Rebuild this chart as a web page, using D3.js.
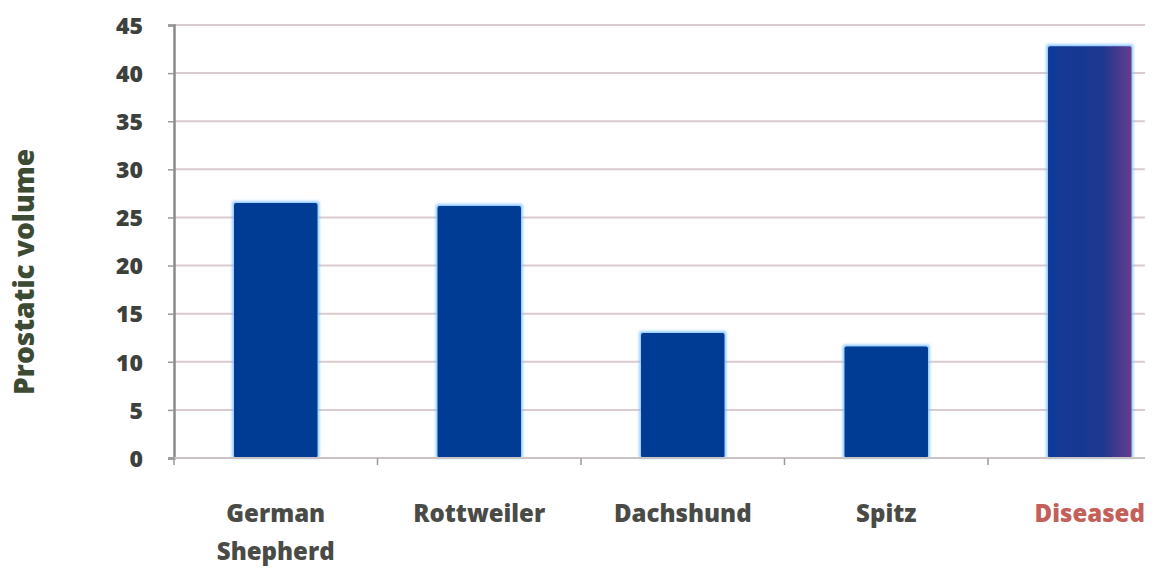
<!DOCTYPE html>
<html>
<head>
<meta charset="utf-8">
<script src="https://cdn.jsdelivr.net/npm/d3@7"></script>
<style>
  html, body { margin: 0; padding: 0; background: #fff; }
  svg { display: block; }
</style>
</head>
<body>
<svg id="chart" width="1158" height="573"></svg>
<script>
// Breeds compared, with mean prostatic volume per group
const categories = ["German Shepherd", "Rottweiler", "Dachshund", "Spitz", "Diseased"];
const values = [26.5, 26.2, 13.0, 11.6, 42.8];
const yTicks = [0, 5, 10, 15, 20, 25, 30, 35, 40, 45];
const yTitle = "Prostatic volume";

const svg = d3.select("#chart");
const plotLeft = 174, plotRight = 1145, plotTop = 25, plotBottom = 458;
const bandWidth = 203.5;
const fontStack = "'Open Sans', sans-serif";

const x = d3.scaleBand()
  .domain(categories)
  .range([plotLeft, plotLeft + bandWidth * categories.length])
  .paddingInner(0.59)
  .paddingOuter(0.295);

const y = d3.scaleLinear().domain([0, 45]).range([plotBottom, plotTop]);

const defs = svg.append("defs");
defs.append("filter").attr("id", "glow")
  .attr("x", "-20%").attr("y", "-20%").attr("width", "140%").attr("height", "140%")
  .append("feGaussianBlur").attr("stdDeviation", 1.8);
defs.append("filter").attr("id", "soft")
  .append("feGaussianBlur").attr("stdDeviation", 0.6);
const grad = defs.append("linearGradient").attr("id", "diseasedFill")
  .attr("x1", "0%").attr("x2", "100%").attr("y1", "0%").attr("y2", "0%");
grad.append("stop").attr("offset", "0%").attr("stop-color", "#0f3a97");
grad.append("stop").attr("offset", "65%").attr("stop-color", "#1e3890");
grad.append("stop").attr("offset", "100%").attr("stop-color", "#683b8c");

// Horizontal gridlines
svg.append("g")
  .selectAll("line")
  .data(yTicks.filter(d => d > 0))
  .join("line")
  .attr("x1", plotLeft).attr("x2", plotRight)
  .attr("y1", d => y(d)).attr("y2", d => y(d))
  .attr("stroke", "#d9cbd0").attr("stroke-width", 2);

// Bars: soft light-blue halo, then the solid bar
const bars = svg.append("g");
bars.selectAll("rect.halo")
  .data(categories)
  .join("rect")
  .attr("class", "halo")
  .attr("x", d => x(d) - 1.5)
  .attr("y", (d, i) => y(values[i]) - 1.5)
  .attr("width", x.bandwidth() + 3)
  .attr("height", (d, i) => plotBottom - y(values[i]) + 1.5)
  .attr("fill", "#7cc0ff")
  .attr("filter", "url(#glow)");
bars.selectAll("rect.bar")
  .data(categories)
  .join("rect")
  .attr("class", "bar")
  .attr("x", d => x(d))
  .attr("y", (d, i) => y(values[i]))
  .attr("width", x.bandwidth())
  .attr("height", (d, i) => plotBottom - y(values[i]))
  .attr("rx", 2)
  .attr("fill", d => d === "Diseased" ? "url(#diseasedFill)" : "#003a94")
  .attr("filter", "url(#soft)");

// Value axis
const yAxis = svg.append("g")
  .attr("transform", `translate(${plotLeft},0)`)
  .call(d3.axisLeft(y).tickValues(yTicks).tickSize(6).tickPadding(25));
yAxis.select(".domain").attr("stroke", "#8a8a8a").attr("stroke-width", 2.5);
yAxis.selectAll(".tick line").attr("stroke", "#9a9a9a").attr("stroke-width", 1.5);
yAxis.selectAll(".tick text")
  .attr("fill", "#3d413b")
  .style("font-family", fontStack)
  .style("font-weight", 800)
  .style("font-size", "23px")
  .attr("dy", "0.36em");

// Category axis line and ticks
svg.append("line")
  .attr("x1", plotLeft).attr("x2", plotRight)
  .attr("y1", plotBottom).attr("y2", plotBottom)
  .attr("stroke", "#c9c3c6").attr("stroke-width", 2);
const boundaries = categories.slice(0, -1).map((d, i) => plotLeft + bandWidth * (i + 1));
svg.append("g").selectAll("line")
  .data([plotLeft].concat(boundaries))
  .join("line")
  .attr("x1", d => d).attr("x2", d => d)
  .attr("y1", plotBottom).attr("y2", plotBottom + 7)
  .attr("stroke", "#9a9a9a").attr("stroke-width", 1.5);

// Category labels (wrapped to two lines where needed)
const wrap = { "German Shepherd": ["German", "Shepherd"] };
const labels = svg.append("g")
  .selectAll("text")
  .data(categories)
  .join("text")
  .attr("x", d => x(d) + x.bandwidth() / 2)
  .attr("y", 522)
  .attr("text-anchor", "middle")
  .attr("fill", d => d === "Diseased" ? "#c4605a" : "#4a4b46")
  .style("font-family", fontStack)
  .style("font-weight", 800)
  .style("font-size", "24px");
labels.each(function(d) {
  const lines = wrap[d] || [d];
  d3.select(this).selectAll("tspan")
    .data(lines)
    .join("tspan")
    .attr("x", x(d) + x.bandwidth() / 2)
    .attr("dy", (l, i) => i === 0 ? 0 : 38)
    .text(l => l);
});

// Axis title
svg.append("text")
  .attr("transform", "translate(34,272) rotate(-90)")
  .attr("text-anchor", "middle")
  .attr("fill", "#3d4a34")
  .style("font-family", fontStack)
  .style("font-weight", 800)
  .style("font-size", "28px")
  .text(yTitle);
</script>
</body>
</html>
